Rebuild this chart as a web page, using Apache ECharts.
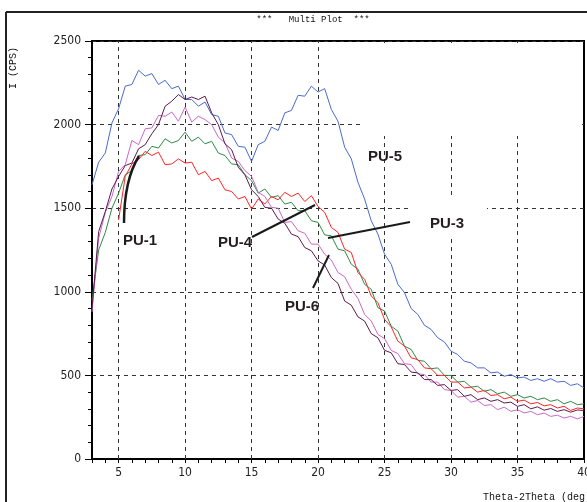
<!DOCTYPE html>
<html>
<head>
<meta charset="utf-8">
<script src="https://cdn.jsdelivr.net/npm/echarts@6/dist/echarts.min.js"></script>
<style>
  html, body { margin: 0; padding: 0; background: #fff; }
  #chart { width: 587px; height: 502px; }
</style>
</head>
<body>
<div id="chart"></div>
<script>
// sampling grid, 2theta from 3 to 40 deg, step 0.5
const twoTheta = []
for (let x = 3; x <= 40; x += 0.5) twoTheta.push(x)

const xLabels = [5, 10, 15, 20, 25, 30, 35, 40]
const xGridLines = [5, 10, 15, 20, 25, 30, 35]

// PU-5 (blue)
const pu5 = [
  1640, 1775, 1830, 2010, 2095, 2230, 2240, 2325, 2290, 2305, 2240, 2265, 2215, 2230, 2150,
  2150, 2110, 2135, 2060, 2050, 1950, 1940, 1870, 1865, 1780, 1880, 1900, 1985, 1965, 2070,
  2085, 2175, 2170, 2230, 2195, 2215, 2090, 2020, 1865, 1795, 1655, 1555, 1425, 1345, 1225,
  1165, 1045, 995, 900, 865, 800, 775, 725, 700, 645, 625, 585, 575, 545, 545,
  515, 520, 495, 505, 485, 490, 470, 480, 465, 480, 460, 465, 440, 450, 425
]
// PU-4 (red), scan starts at 5 deg
const pu4 = [
  null, null, null, null,
  1430, 1690, 1765, 1790, 1840, 1815, 1835, 1760, 1765, 1795, 1770,
  1775, 1700, 1720, 1665, 1680, 1610, 1600, 1555, 1570, 1495, 1555, 1525, 1570, 1550, 1595,
  1570, 1590, 1540, 1575, 1510, 1475, 1385, 1355, 1255, 1235, 1115, 1075, 975, 935, 835,
  790, 705, 675, 605, 595, 545, 540, 500, 500, 460, 460, 425, 430, 400, 410,
  380, 385, 360, 370, 345, 352, 330, 338, 318, 325, 305, 315, 290, 305, 300
]
// PU-3 (green)
const pu3 = [
  950, 1250, 1355, 1500, 1590, 1700, 1725, 1815, 1820, 1870, 1860, 1915, 1890, 1905, 1955,
  1900, 1925, 1885, 1900, 1830, 1815, 1765, 1760, 1700, 1665, 1590, 1615, 1565, 1575, 1525,
  1535, 1485, 1485, 1425, 1415, 1340, 1335, 1255, 1245, 1165, 1135, 1045, 1015, 905, 885,
  795, 765, 675, 655, 590, 585, 540, 545, 500, 500, 460, 465, 430, 435, 405,
  415, 390, 400, 375, 385, 365, 375, 355, 365, 345, 355, 330, 345, 325, 330
]
// PU-1 (dark purple)
const pu1 = [
  900, 1360, 1480, 1615, 1690, 1755, 1770, 1855, 1880, 1945, 2000, 2110, 2140, 2180, 2150,
  2165, 2150, 2170, 2070, 2000, 1885, 1850, 1745, 1700, 1610, 1570, 1505, 1500, 1435, 1410,
  1345, 1330, 1265, 1245, 1185, 1160, 1085, 1050, 945, 920, 850, 825, 750, 725, 650,
  635, 570, 565, 520, 515, 475, 475, 440, 445, 410, 415, 375, 385, 355, 365,
  345, 355, 335, 340, 315, 325, 300, 312, 292, 302, 285, 295, 280, 293, 290
]
// PU-6 (pink)
const pu6 = [
  880, 1320, 1475, 1570, 1720, 1760, 1905, 1880, 1975, 1980, 2055, 2050, 2075, 2020, 2105,
  2015, 2050, 2030, 2000, 1925, 1890, 1800, 1780, 1725, 1690, 1595, 1570, 1505, 1500, 1415,
  1420, 1365, 1350, 1285, 1285, 1225, 1190, 1115, 1090, 1015, 960, 865, 825, 745, 720,
  650, 630, 570, 565, 510, 505, 460, 460, 415, 410, 370, 375, 340, 350, 320,
  325, 295, 310, 285, 295, 275, 285, 265, 275, 255, 262, 245, 255, 240, 255
]

function toPairs(arr) {
  const out = []
  arr.forEach((v, i) => {
    if (v !== null) out.push([twoTheta[i], v])
  })
  return out
}

const monoFont = "'Liberation Mono', 'DejaVu Sans Mono', monospace"
const tickFont = "'Liberation Sans Narrow', 'DejaVu Sans Condensed', 'Liberation Sans', sans-serif"
const labelFont = "'Liberation Sans', Arial, sans-serif"
const gridDash = { color: '#333', width: 1, type: [4, 4] }

const chart = echarts.init(document.getElementById('chart'))

function lineSeries(name, arr, color) {
  return {
    name: name,
    type: 'line',
    data: toPairs(arr),
    showSymbol: false,
    symbol: 'none',
    animation: false,
    lineStyle: { color: color, width: 1 },
    z: 4
  }
}

const series = [
  lineSeries('PU-5', pu5, '#4a6bd0'),
  lineSeries('PU-3', pu3, '#2f8a45'),
  lineSeries('PU-4', pu4, '#ff2424'),
  lineSeries('PU-6', pu6, '#cc68c8'),
  lineSeries('PU-1', pu1, '#5e1a4e')
]
// vertical dashed grid at every 5 deg
series[0].markLine = {
  silent: true,
  symbol: 'none',
  label: { show: false },
  lineStyle: gridDash,
  z: 1,
  data: xGridLines.map(v => ({ xAxis: v }))
}

const option = {
  animation: false,
  backgroundColor: '#fff',
  grid: {
    left: 92, right: 3, top: 41, bottom: 43,
    containLabel: false,
    outerBoundsMode: 'none',
    show: true, borderColor: '#000', borderWidth: 2
  },
  xAxis: {
    type: 'value',
    min: 3,
    max: 40,
    interval: 1,
    axisLine: { lineStyle: { color: '#000', width: 2 } },
    axisTick: { length: 4, lineStyle: { color: '#000' } },
    axisLabel: {
      margin: 8,
      color: '#222',
      fontFamily: tickFont,
      fontSize: 12,
      formatter: v => (xLabels.indexOf(v) >= 0 ? String(v) : '')
    },
    splitLine: { show: false }
  },
  yAxis: {
    type: 'value',
    min: 0,
    max: 2500,
    interval: 500,
    axisLine: { show: true, lineStyle: { color: '#000', width: 2 } },
    axisTick: { show: true, length: 7, lineStyle: { color: '#000' } },
    minorTick: { show: true, splitNumber: 5, length: 4, lineStyle: { color: '#000' } },
    axisLabel: {
      margin: 11, color: '#222', fontFamily: tickFont, fontSize: 12,
      formatter: v => String(v)
    },
    splitLine: { show: true, lineStyle: gridDash }
  },
  series: series,
  graphic: [
    // outer frame
    { type: 'line', shape: { x1: 6, y1: 12, x2: 587, y2: 12 }, style: { stroke: '#222', lineWidth: 2 } },
    { type: 'line', shape: { x1: 6, y1: 12, x2: 6, y2: 502 }, style: { stroke: '#222', lineWidth: 2 } },
    // blank patches over the grid
    { type: 'rect', z: 3, shape: { x: 361, y: 43, width: 221, height: 93 }, style: { fill: '#fff' } },
    { type: 'rect', z: 3, shape: { x: 408, y: 198, width: 79, height: 38 }, style: { fill: '#fff' } },
    // titles
    {
      type: 'text', x: 313, y: 20,
      style: { text: '***   Multi Plot  ***', font: '9px ' + monoFont, fill: '#111', align: 'center', verticalAlign: 'middle' }
    },
    {
      type: 'text', x: 13, y: 68, rotation: Math.PI / 2,
      style: { text: 'I (CPS)', font: '10px ' + monoFont, fill: '#111', align: 'center', verticalAlign: 'middle' }
    },
    {
      type: 'text', x: 483, y: 497,
      style: { text: 'Theta-2Theta (deg)', font: '10px ' + monoFont, fill: '#111', align: 'left', verticalAlign: 'middle' }
    },
    // annotations
    { type: 'bezierCurve', z: 10, shape: { x1: 124, y1: 223, cpx1: 124, cpy1: 180, x2: 139, y2: 156 }, style: { stroke: '#1a1a1a', lineWidth: 2.5, fill: null } },
    { type: 'line', z: 10, shape: { x1: 252, y1: 237, x2: 315, y2: 205 }, style: { stroke: '#1a1a1a', lineWidth: 2 } },
    { type: 'line', z: 10, shape: { x1: 313, y1: 288, x2: 329, y2: 255 }, style: { stroke: '#1a1a1a', lineWidth: 2 } },
    { type: 'line', z: 10, shape: { x1: 328, y1: 238, x2: 410, y2: 222 }, style: { stroke: '#1a1a1a', lineWidth: 2 } },
    { type: 'text', z: 10, x: 140, y: 241, style: { text: 'PU-1', font: 'bold 15px ' + labelFont, fill: '#231f20', align: 'center', verticalAlign: 'middle' } },
    { type: 'text', z: 10, x: 235, y: 243, style: { text: 'PU-4', font: 'bold 15px ' + labelFont, fill: '#231f20', align: 'center', verticalAlign: 'middle' } },
    { type: 'text', z: 10, x: 302, y: 307, style: { text: 'PU-6', font: 'bold 15px ' + labelFont, fill: '#231f20', align: 'center', verticalAlign: 'middle' } },
    { type: 'text', z: 10, x: 447, y: 224, style: { text: 'PU-3', font: 'bold 15px ' + labelFont, fill: '#231f20', align: 'center', verticalAlign: 'middle' } },
    { type: 'text', z: 10, x: 385, y: 157, style: { text: 'PU-5', font: 'bold 15px ' + labelFont, fill: '#231f20', align: 'center', verticalAlign: 'middle' } }
  ]
}

chart.setOption(option)
</script>
</body>
</html>
